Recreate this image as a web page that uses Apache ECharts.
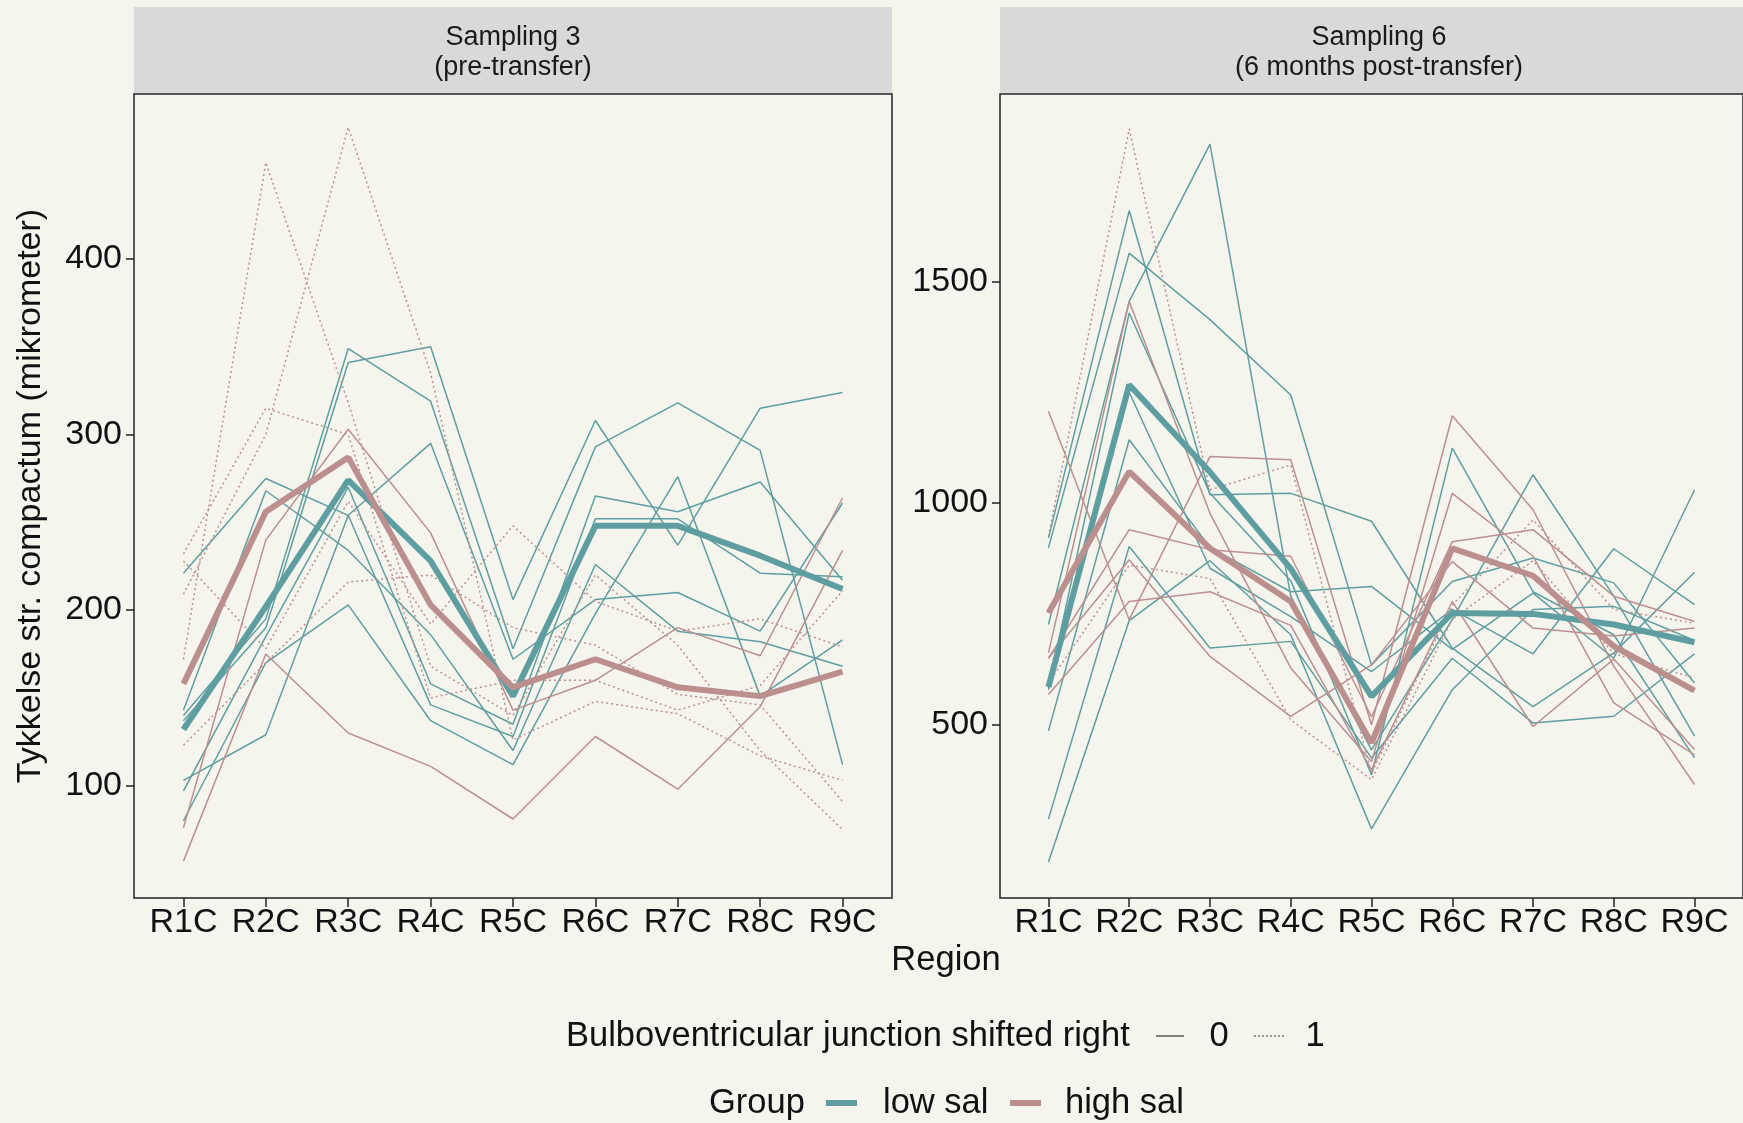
<!DOCTYPE html>
<html>
<head>
<meta charset="utf-8">
<script src="https://cdn.jsdelivr.net/npm/echarts@6/dist/echarts.min.js"></script>
<style>
  html, body { margin: 0; padding: 0; background: #F5F5EE; }
  #chart { width: 1743px; height: 1123px; }
</style>
</head>
<body>
<div id="chart"></div>
<script>
const regions = ['R1C', 'R2C', 'R3C', 'R4C', 'R5C', 'R6C', 'R7C', 'R8C', 'R9C']
const ticksS3 = [100, 200, 300, 400]
const ticksS6 = [500, 1000, 1500]

// Sampling 3 (pre-transfer), one row per fish
const s3Low0 = [
  [80, 170, 203, 137, 112, 198, 276, 151, 183],
  [103, 129, 254, 146, 128, 252, 252, 221, 219],
  [97, 185, 270, 158, 135, 265, 256, 273, 217],
  [140, 195, 349, 319, 178, 293, 318, 291, 112],
  [137, 190, 341, 350, 206, 308, 237, 315, 324],
  [221, 275, 254, 295, 172, 206, 210, 188, 261],
  [143, 268, 234, 186, 120, 226, 188, 182, 168]
]
const s3High0 = [
  [57, 175, 130, 111, 81, 128, 98, 145, 234],
  [76, 240, 303, 244, 143, 160, 190, 174, 264]
]
const s3High1 = [
  [172, 455, 318, 168, 140, 220, 180, 120, 75],
  [209, 300, 475, 335, 126, 148, 141, 117, 103],
  [232, 315, 300, 150, 160, 160, 143, 157, 211],
  [123, 170, 216, 220, 190, 180, 152, 146, 91],
  [228, 178, 262, 192, 248, 205, 188, 195, 179]
]
const s3LowMean = [132, 202, 274, 228, 151, 248, 248, 231, 212]
const s3HighMean = [158, 256, 287, 203, 156, 172, 156, 151, 165]

// Sampling 6 (6 months post-transfer)
const s6Low0 = [
  [921, 1660, 1019, 1022, 959, 673, 541, 662, 844],
  [899, 1564, 1414, 1244, 635, 823, 876, 820, 594],
  [726, 1455, 1810, 790, 443, 737, 1064, 790, 474],
  [583, 1429, 1022, 825, 387, 1124, 800, 703, 425],
  [579, 1250, 853, 744, 620, 760, 660, 897, 771],
  [486, 1143, 900, 800, 812, 670, 797, 650, 1030],
  [287, 902, 673, 688, 425, 650, 504, 519, 660],
  [190, 735, 870, 703, 265, 579, 760, 767, 690]
]
const s6High0 = [
  [1207, 737, 1105, 1098, 500, 1197, 985, 632, 365],
  [662, 1455, 977, 628, 417, 1022, 880, 549, 432],
  [650, 940, 895, 880, 518, 913, 940, 790, 733],
  [650, 872, 654, 519, 635, 868, 718, 700, 718],
  [568, 778, 800, 724, 398, 778, 496, 648, 444]
]
const s6High1 = [
  [925, 1844, 1030, 1086, 390, 770, 962, 760, 729],
  [594, 860, 830, 511, 376, 738, 870, 660, 605]
]
const s6LowMean = [585, 1267, 1070, 852, 564, 752, 750, 726, 686]
const s6HighMean = [752, 1071, 898, 778, 459, 898, 836, 677, 577]

const TEAL = '#5F9EA0'
const ROSY = '#BC8F8F'
const FONT = '"Liberation Sans", Arial, sans-serif'

function lineSeries(values, panel, color, width, type, z) {
  return {
    type: 'line',
    xAxisIndex: panel,
    yAxisIndex: panel,
    data: values.map((v, i) => [i, v]),
    symbol: 'none',
    silent: true,
    z: z,
    lineStyle: { color: color, width: width, type: type }
  }
}

function xAxisFor(panel) {
  return {
    type: 'value',
    gridIndex: panel,
    position: 'bottom',
    min: -0.6,
    max: 8.6,
    axisLine: { show: false, onZero: false },
    splitLine: { show: false },
    axisTick: {
      show: true, length: 9, customValues: regions.map((r, i) => i),
      lineStyle: { color: '#222', width: 1.5 }
    },
    axisLabel: {
      customValues: regions.map((r, i) => i),
      formatter: v => regions[Math.round(v)],
      color: '#111', fontSize: 34, fontFamily: FONT, margin: 8
    }
  }
}

function yAxisFor(panel, min, max, ticks) {
  return {
    type: 'value',
    gridIndex: panel,
    position: 'left',
    min: min,
    max: max,
    axisLine: { show: false, onZero: false },
    splitLine: { show: false },
    axisTick: {
      show: true, length: 8, customValues: ticks,
      lineStyle: { color: '#222', width: 1.5 }
    },
    axisLabel: {
      customValues: ticks,
      formatter: v => String(v),
      color: '#111', fontSize: 34, fontFamily: FONT, margin: 12
    }
  }
}

const series = []
s3Low0.forEach(r => series.push(lineSeries(r, 0, TEAL, 1.5, 'solid', 2)))
s3High0.forEach(r => series.push(lineSeries(r, 0, ROSY, 1.5, 'solid', 2)))
s3High1.forEach(r => series.push(lineSeries(r, 0, ROSY, 1.5, [2, 3], 2)))
series.push(lineSeries(s3LowMean, 0, TEAL, 6, 'solid', 3))
series.push(lineSeries(s3HighMean, 0, ROSY, 6, 'solid', 3))
s6Low0.forEach(r => series.push(lineSeries(r, 1, TEAL, 1.5, 'solid', 2)))
s6High0.forEach(r => series.push(lineSeries(r, 1, ROSY, 1.5, 'solid', 2)))
s6High1.forEach(r => series.push(lineSeries(r, 1, ROSY, 1.5, [2, 3], 2)))
series.push(lineSeries(s6LowMean, 1, TEAL, 6, 'solid', 3))
series.push(lineSeries(s6HighMean, 1, ROSY, 6, 'solid', 3))

function strip(cx, x, lines) {
  return [
    { type: 'rect', shape: { x: x, y: 7, width: 758, height: 86 }, style: { fill: '#D9D9D9' }, z: 0 },
    {
      type: 'text', x: cx, y: 53, z: 1,
      style: {
        text: lines, align: 'center', verticalAlign: 'middle',
        font: '27px ' + FONT, lineHeight: 30, fill: '#1A1A1A'
      }
    }
  ]
}

function legendText(x, y, s, align) {
  return {
    type: 'text', x: x, y: y,
    style: { text: s, align: align || 'left', verticalAlign: 'middle', font: '34.5px ' + FONT, fill: '#111' }
  }
}

function legendKey(x1, x2, y, color, width, dash) {
  return {
    type: 'line', shape: { x1: x1, y1: y, x2: x2, y2: y },
    style: { stroke: color, lineWidth: width, lineDash: dash || null }
  }
}

const graphics = [].concat(
  strip(513, 134, 'Sampling 3\n(pre-transfer)'),
  strip(1379, 1000, 'Sampling 6\n(6 months post-transfer)'),
  [
    {
      type: 'text', x: 31, y: 496, rotation: Math.PI / 2,
      style: {
        text: 'Tykkelse str. compactum (mikrometer)', align: 'center', verticalAlign: 'middle',
        font: '34px ' + FONT, fill: '#111'
      }
    },
    legendText(946, 960, 'Region', 'center'),
    legendText(566, 1036, 'Bulboventricular junction shifted right'),
    legendKey(1156, 1184, 1036, '#333', 1.2),
    legendText(1219, 1036, '0', 'center'),
    legendKey(1254, 1284, 1036, '#333', 1.2, [2, 2]),
    legendText(1315, 1036, '1', 'center'),
    legendText(709, 1103, 'Group'),
    legendKey(826, 857, 1103, TEAL, 6),
    legendText(883, 1103, 'low sal'),
    legendKey(1010, 1041, 1103, ROSY, 6),
    legendText(1065, 1103, 'high sal')
  ]
)

const chart = echarts.init(document.getElementById('chart'))
chart.setOption({
  backgroundColor: '#F5F5EE',
  animation: false,
  textStyle: { fontFamily: FONT },
  grid: [
    { left: 134, top: 94, width: 758, height: 804, show: true, borderColor: '#222', borderWidth: 1.5, backgroundColor: 'transparent' },
    { left: 1000, top: 94, width: 758, height: 804, show: true, borderColor: '#222', borderWidth: 1.5, backgroundColor: 'transparent' }
  ],
  xAxis: [xAxisFor(0), xAxisFor(1)],
  yAxis: [yAxisFor(0, 36, 494, ticksS3), yAxisFor(1, 109, 1923, ticksS6)],
  series: series,
  graphic: graphics
})
</script>
</body>
</html>
